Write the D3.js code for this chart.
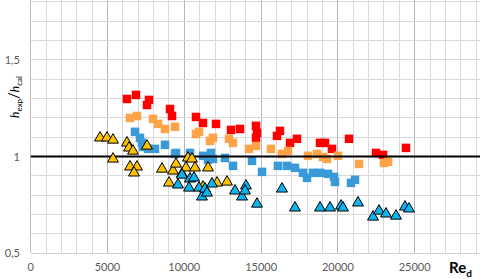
<!DOCTYPE html>
<html>
<head>
<meta charset="utf-8">
<script src="https://cdn.jsdelivr.net/npm/d3@7"></script>
<style>
  body { margin: 0; background: #fff; }
  svg { display: block; font-family: Lato, "Open Sans", sans-serif; }
</style>
</head>
<body>
<div id="chart"></div>
<script>
const width = 480, height = 279;

// data: [Re, hexp/hcal]
const redSquares = [
  [6270, 1.298], [6855, 1.319], [7702, 1.293], [7572, 1.267], [9069, 1.246],
  [9199, 1.210], [10762, 1.205], [11217, 1.174], [12064, 1.169], [13040, 1.138],
  [13626, 1.143], [14668, 1.159], [14733, 1.123], [14668, 1.097], [16230, 1.133],
  [16035, 1.107], [16882, 1.071], [17337, 1.092], [18835, 1.071], [19160, 1.071],
  [19616, 1.040], [20723, 1.092], [22480, 1.019], [22936, 1.009], [24433, 1.045]
];
const orangeSquares = [
  [6465, 1.200], [6920, 1.210], [7962, 1.195], [8288, 1.169], [8743, 1.143],
  [9394, 1.154], [10762, 1.117], [10957, 1.128], [11673, 1.081], [11868, 1.097],
  [12910, 1.092], [13170, 1.071], [14212, 1.040], [14668, 1.055], [15644, 1.040],
  [16360, 1.014], [16751, 1.029], [18053, 1.004], [18639, 1.014], [19030, 0.998],
  [19290, 0.988], [20006, 1.004], [21374, 0.962], [23001, 0.967], [23262, 0.973]
];
const blueSquares = [
  [6790, 1.128], [7116, 1.097], [7246, 1.071], [7311, 1.050], [7637, 1.040],
  [8092, 1.040], [8743, 1.061], [9394, 1.014], [9460, 1.019], [10371, 1.019],
  [11217, 1.004], [11543, 0.983], [11738, 1.019], [11868, 0.988], [12650, 0.993],
  [13170, 0.952], [14408, 0.978], [15059, 0.921], [16100, 0.952], [16686, 0.952],
  [17207, 0.942], [17728, 0.916], [17988, 0.890], [18379, 0.916], [18835, 0.916],
  [19355, 0.911], [19746, 0.895], [19811, 0.869], [20853, 0.864], [21113, 0.880]
];
const yellowTriangles = [
  [4512, 1.097], [4967, 1.097], [5358, 1.086], [6270, 1.071], [6400, 1.045],
  [6660, 1.029], [7572, 1.055], [5358, 0.988], [6465, 0.947], [6920, 0.947],
  [6725, 0.916], [8548, 0.936], [9004, 0.864], [9264, 0.926], [9460, 0.962],
  [9850, 0.911], [10111, 0.942], [10241, 0.993], [10502, 0.988], [10697, 0.942],
  [11217, 0.843], [11543, 0.942], [12129, 0.864], [12780, 0.869]
];
const cyanTriangles = [
  [9590, 0.854], [9850, 0.905], [10371, 0.885], [10632, 0.890], [10306, 0.838],
  [10957, 0.838], [11152, 0.792], [11347, 0.833], [11478, 0.812], [11803, 0.859],
  [13301, 0.823], [13757, 0.792], [14017, 0.849], [13952, 0.823], [14733, 0.755],
  [16360, 0.833], [17207, 0.735], [18835, 0.735], [19486, 0.735], [20202, 0.745],
  [20332, 0.735], [21309, 0.761], [22285, 0.688], [22676, 0.719], [23132, 0.704],
  [23783, 0.693], [24368, 0.740], [24628, 0.730]
];

const xTicks = [0, 5000, 10000, 15000, 20000, 25000];
const yTicks = [0.5, 1, 1.5];
const yTickText = ["0,5", "1", "1,5"];

const x = d3.scaleLinear().domain([0, 30000]).range([30.7, 30.7 + 6 * 76.8]);
const y = d3.scaleLinear().domain([0.5, 2]).range([253.3, 253.3 - 3 * 96.7]);

const svg = d3.select("#chart").append("svg")
    .attr("width", width)
    .attr("height", height);

// gridlines
const grid = svg.append("g").attr("shape-rendering", "crispEdges");
grid.selectAll(".vx")
  .data(d3.range(1000, 30001, 1000))
  .join("line")
    .attr("x1", d => x(d)).attr("x2", d => x(d))
    .attr("y1", y(2)).attr("y2", y(0.5))
    .attr("stroke", d => d % 5000 === 0 ? "#b8b8b8" : "#d9d9d9");
grid.selectAll(".hy")
  .data(d3.range(6, 21).map(d => d / 10))
  .join("line")
    .attr("x1", x(0)).attr("x2", width)
    .attr("y1", d => y(d)).attr("y2", d => y(d))
    .attr("stroke", "#d9d9d9");
grid.append("line")
    .attr("x1", x(0)).attr("x2", x(0))
    .attr("y1", y(2)).attr("y2", y(0.5))
    .attr("stroke", "#bfbfbf");
grid.append("line")
    .attr("x1", x(0)).attr("x2", width)
    .attr("y1", y(0.5)).attr("y2", y(0.5))
    .attr("stroke", "#d0d0d0");

// tick labels
svg.append("g")
  .selectAll("text")
  .data(xTicks)
  .join("text")
    .attr("x", d => x(d))
    .attr("y", 271)
    .attr("text-anchor", "middle")
    .attr("font-size", 11)
    .attr("fill", "#595959")
    .text(d => d);
svg.append("g")
  .selectAll("text")
  .data(yTicks)
  .join("text")
    .attr("x", 20)
    .attr("y", d => y(d) + 4)
    .attr("text-anchor", "end")
    .attr("font-size", 11)
    .attr("fill", "#595959")
    .text((d, i) => yTickText[i]);

// axis titles
const yl = svg.append("text")
    .attr("transform", "translate(19,97) rotate(-90)")
    .attr("text-anchor", "middle")
    .attr("font-size", 12)
    .attr("fill", "#000");
yl.append("tspan").attr("font-style", "italic").text("h");
yl.append("tspan").attr("font-size", 8).attr("dy", 3).text("exp");
yl.append("tspan").attr("dy", -3).attr("font-size", 15).text("/");
yl.append("tspan").attr("font-style", "italic").text("h");
yl.append("tspan").attr("font-size", 8).attr("dy", 3).text("cal");

const xl = svg.append("text")
    .attr("x", 449)
    .attr("y", 273)
    .attr("font-size", 15)
    .attr("font-weight", "bold")
    .attr("fill", "#000");
xl.append("tspan").text("Re");
xl.append("tspan").attr("font-size", 10).attr("dy", 4).text("d");

// squares
const sq = 8.5;
const squareSeries = [
  [redSquares, "#ff0000"],
  [orangeSquares, "#ffa348"],
  [blueSquares, "#3a9ad9"]
];
squareSeries.forEach(([data, color]) => {
  svg.append("g")
    .selectAll("rect")
    .data(data)
    .join("rect")
      .attr("x", d => x(d[0]) - sq / 2)
      .attr("y", d => y(d[1]) - sq / 2)
      .attr("width", sq)
      .attr("height", sq)
      .attr("fill", color);
});

// reference line at 1
svg.append("line")
    .attr("x1", x(0)).attr("x2", width)
    .attr("y1", y(1)).attr("y2", y(1))
    .attr("stroke", "#000")
    .attr("stroke-width", 2);

// triangles
const tri = d3.symbol().type(d3.symbolTriangle).size(52);
[[yellowTriangles, "#ffc000"], [cyanTriangles, "#10b4ec"]].forEach(([data, color]) => {
  svg.append("g")
    .selectAll("path")
    .data(data)
    .join("path")
      .attr("d", tri)
      .attr("transform", d => `translate(${x(d[0])},${y(d[1])})`)
      .attr("fill", color)
      .attr("stroke", "#000")
      .attr("stroke-width", 1);
});
</script>
</body>
</html>
